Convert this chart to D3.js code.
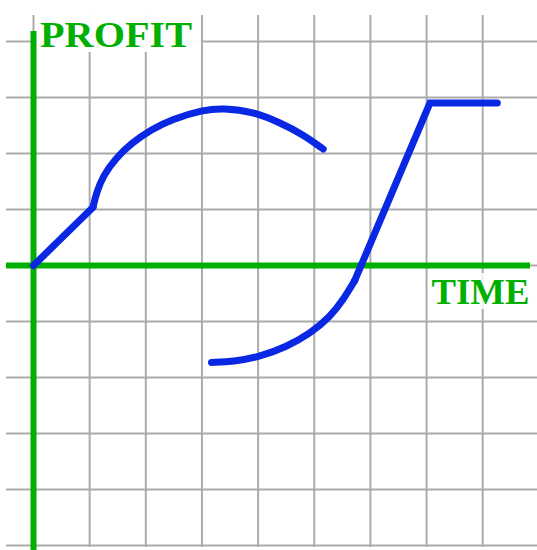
<!DOCTYPE html>
<html>
<head>
<meta charset="utf-8">
<script src="https://cdn.jsdelivr.net/npm/d3@7"></script>
<style>
  html, body { margin: 0; padding: 0; background: #fff; }
  svg { display: block; }
</style>
</head>
<body>
<script>
// ---- data (grid units: 1 unit = 1 grid cell) ----
const xTicks = [0, 1, 2, 3, 4, 5, 6, 7, 8];
const yTicks = [-5, -4, -3, -2, -1, 0, 1, 2, 3, 4];
const yLabel = "PROFIT";
const xLabel = "TIME";

// early growth: straight rise then rounded arc
const riseLine = [[0, 0], [1.06, 1.04]];
const upperArc = [[1.06, 1.04], [1.12, 1.30], [1.24, 1.60], [1.45, 1.90], [1.75, 2.19],
                  [2.10, 2.43], [2.46, 2.61], [3.02, 2.78], [3.38, 2.81], [3.91, 2.75],
                  [4.39, 2.55], [4.80, 2.34], [5.16, 2.08]];
// second curve: low arc then steep straight rise then plateau
const lowerArc = [[3.17, -1.73], [3.56, -1.72], [4.03, -1.63], [4.51, -1.45], [4.92, -1.22],
                  [5.28, -0.92], [5.51, -0.62], [5.72, -0.27]];
const riseAndPlateau = [[5.72, -0.27], [7.06, 2.90], [8.26, 2.90]];

// ---- layout ----
const W = 537, H = 550;
const svg = d3.select("body").append("svg").attr("width", W).attr("height", H);

const x = d3.scaleLinear().domain([0, 8]).range([33.5, 482.7]);
const y = d3.scaleLinear().domain([-5, 4]).range([545.5, 41.5]);

const gridLeft = 6, gridRight = W, gridTop = 15, gridBottom = 547;

// grid
const grid = svg.append("g").attr("stroke", "#ababab").attr("stroke-width", 2);
grid.selectAll("line.v").data(xTicks).join("line")
  .attr("class", "v")
  .attr("x1", d => x(d)).attr("x2", d => x(d))
  .attr("y1", gridTop).attr("y2", gridBottom);
grid.selectAll("line.h").data(yTicks).join("line")
  .attr("class", "h")
  .attr("x1", gridLeft).attr("x2", gridRight)
  .attr("y1", d => y(d)).attr("y2", d => y(d));

// label backgrounds
svg.append("rect").attr("x", 36).attr("y", 13).attr("width", 165).attr("height", 39)
  .attr("fill", "#fff").attr("fill-opacity", 0.92);
svg.append("rect").attr("x", 428).attr("y", 273).attr("width", 109).attr("height", 36)
  .attr("fill", "#fff").attr("fill-opacity", 0.8);

// axes
const green = "#00b000";
svg.append("line")
  .attr("x1", x(0)).attr("x2", x(0))
  .attr("y1", 31).attr("y2", H)
  .attr("stroke", green).attr("stroke-width", 6);
svg.append("line")
  .attr("x1", gridLeft).attr("x2", 530)
  .attr("y1", y(0)).attr("y2", y(0))
  .attr("stroke", green).attr("stroke-width", 6);

// labels
svg.append("text")
  .attr("x", 40).attr("y", 47)
  .attr("textLength", 152).attr("lengthAdjust", "spacingAndGlyphs")
  .attr("font-family", "'Liberation Serif', 'DejaVu Serif', serif")
  .attr("font-weight", "bold").attr("font-size", 35)
  .attr("fill", green).text(yLabel);
svg.append("text")
  .attr("x", 431.5).attr("y", 303.5)
  .attr("textLength", 98).attr("lengthAdjust", "spacingAndGlyphs")
  .attr("font-family", "'Liberation Serif', 'DejaVu Serif', serif")
  .attr("font-weight", "bold").attr("font-size", 35)
  .attr("fill", green).text(xLabel);

// curves
const blue = "#0a28e4";
const straight = d3.line().x(d => x(d[0])).y(d => y(d[1])).curve(d3.curveLinear);
const smooth = d3.line().x(d => x(d[0])).y(d => y(d[1])).curve(d3.curveBasis);

const curves = svg.append("g")
  .attr("fill", "none").attr("stroke", blue).attr("stroke-width", 7)
  .attr("stroke-linecap", "round").attr("stroke-linejoin", "miter");
curves.append("path").attr("d", straight(riseLine));
curves.append("path").attr("d", smooth(upperArc));
curves.append("path").attr("d", smooth(lowerArc));
curves.append("path").attr("d", straight(riseAndPlateau));
</script>
</body>
</html>
